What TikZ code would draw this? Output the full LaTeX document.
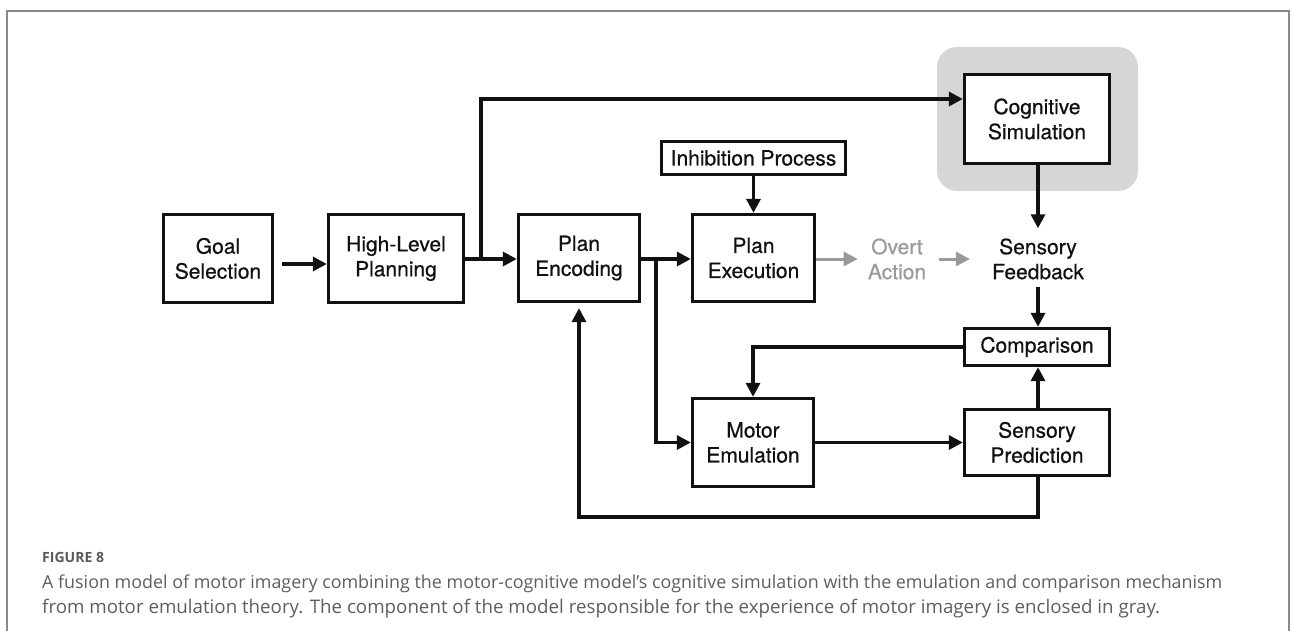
\documentclass[tikz,border=0pt]{standalone}
\usepackage{fontspec}
\usepackage{graphicx}
\usetikzlibrary{arrows.meta}
\newfontfamily\diagfont[FakeBold=0.6]{TeX Gyre Heros}
\newfontfamily\capfont{Open Sans}
\definecolor{ink}{HTML}{111111}
\definecolor{enclgray}{HTML}{D6D6D6}
\definecolor{muted}{HTML}{9A9A9A}
\definecolor{framec}{HTML}{8A8A8A}
\definecolor{captext}{HTML}{5E5E5E}
\definecolor{caphead}{HTML}{5A5A5A}

\begin{document}
\begin{tikzpicture}[x=1pt,y=-1pt,
  box/.style={draw=ink, fill=white, line width=3.3pt, inner sep=0pt, align=center, text=ink,
    font=\diagfont\fontsize{21}{25}\selectfont},
  plain/.style={inner sep=0pt, align=center, font=\diagfont\fontsize{21}{25}\selectfont},
  arr/.style={draw=ink, line width=3.3pt, -{Triangle[length=14pt,width=14pt]}},
  garr/.style={draw=muted, line width=3pt, -{Triangle[length=14pt,width=14pt]}},
  captxt/.style={anchor=base west, inner sep=0pt, text=captext, font=\capfont\fontsize{16}{25}\selectfont},
]
\useasboundingbox (0,0) rectangle (1293,631);

% open frame around figure and caption
\draw[framec, line width=1.5pt] (7,631) -- (7,11) -- (1289,11) -- (1289,631);

% gray enclosure of the cognitive simulation component
\fill[enclgray, rounded corners=20pt] (937,47) rectangle (1138,191);

% process boxes
\node[box, minimum width=109pt, minimum height=88pt] (goal) at (218,258.5) {Goal\\Selection};
\node[box, minimum width=135pt, minimum height=88pt] (hlp) at (396,258.5) {High-Level\\Planning};
\node[box, minimum width=121pt, minimum height=87pt] (penc) at (579,258) {Plan\\Encoding};
\node[box, minimum width=122pt, minimum height=87pt] (pexec) at (753.5,258) {Plan\\Execution};
\node[box, minimum width=184pt, minimum height=33pt] (inhib) at (753.5,158) {Inhibition Process};
\node[box, minimum width=145pt, minimum height=89pt] (cogsim) at (1037,119) {Cognitive\\Simulation};
\node[box, minimum width=145pt, minimum height=37pt] (comp) at (1037,347) {Comparison};
\node[box, minimum width=121pt, minimum height=88pt] (motor) at (753,442.5) {Motor\\Emulation};
\node[box, minimum width=145pt, minimum height=66pt] (senspred) at (1037,442.5) {Sensory\\Prediction};

% unboxed stages
\node[plain, text=muted, inner xsep=10pt] (overt) at (897,259) {Overt\\Action};
\node[plain, text=ink] (sensfb) at (1038,259) {Sensory\\Feedback};

% junction and routing points
\coordinate (b1) at (481,259);
\coordinate (b2) at (656,259);
\coordinate (fb) at (579,517);

% connectors
\draw[arr] ([xshift=8pt,yshift=-5.5pt]goal.east) -- ([yshift=-5.5pt]hlp.west);
\draw[arr] (hlp.east |- b1) -- (penc.west |- b1);
\draw[arr] (b1) |- ([yshift=20pt]cogsim.west);
\draw[arr] (penc.east |- b2) -- (pexec.west |- b2);
\draw[arr] (b2) |- (motor.west);
\draw[arr] (inhib.south) -- (pexec.north);
\draw[garr] (pexec.east |- overt) -- (overt.west);
\draw[garr, shorten <=3pt, shorten >=22pt] (overt.east) -- (sensfb.west);
\draw[arr, shorten >=10pt] (cogsim.south -| sensfb) -- (sensfb.north);
\draw[arr, shorten <=7pt] (sensfb.south) -- (comp.north -| sensfb);
\draw[arr] (comp.west) -| (motor.north);
\draw[arr] (motor.east) -- (senspred.west);
\draw[arr] (senspred.north -| sensfb) -- (comp.south -| sensfb);
\draw[arr, shorten >=5pt] (senspred.south -| sensfb) |- (fb) -- (penc.south);

% caption
\node[anchor=base west, inner sep=0pt, text=caphead,
  font=\capfont\bfseries\fontsize{13.5}{16}\selectfont] (fig) at (42,562)
  {\resizebox{62pt}{!}{FIGURE 8}};
\node[captxt] (cap1) at (42,588)
  {\resizebox{1180pt}{!}{A fusion model of motor imagery combining the motor-cognitive model’s cognitive simulation with the emulation and comparison mechanism}};
\node[captxt] (cap2) at (42,613)
  {\resizebox{1118pt}{!}{from motor emulation theory. The component of the model responsible for the experience of motor imagery is enclosed in gray.}};
\end{tikzpicture}
\end{document}
